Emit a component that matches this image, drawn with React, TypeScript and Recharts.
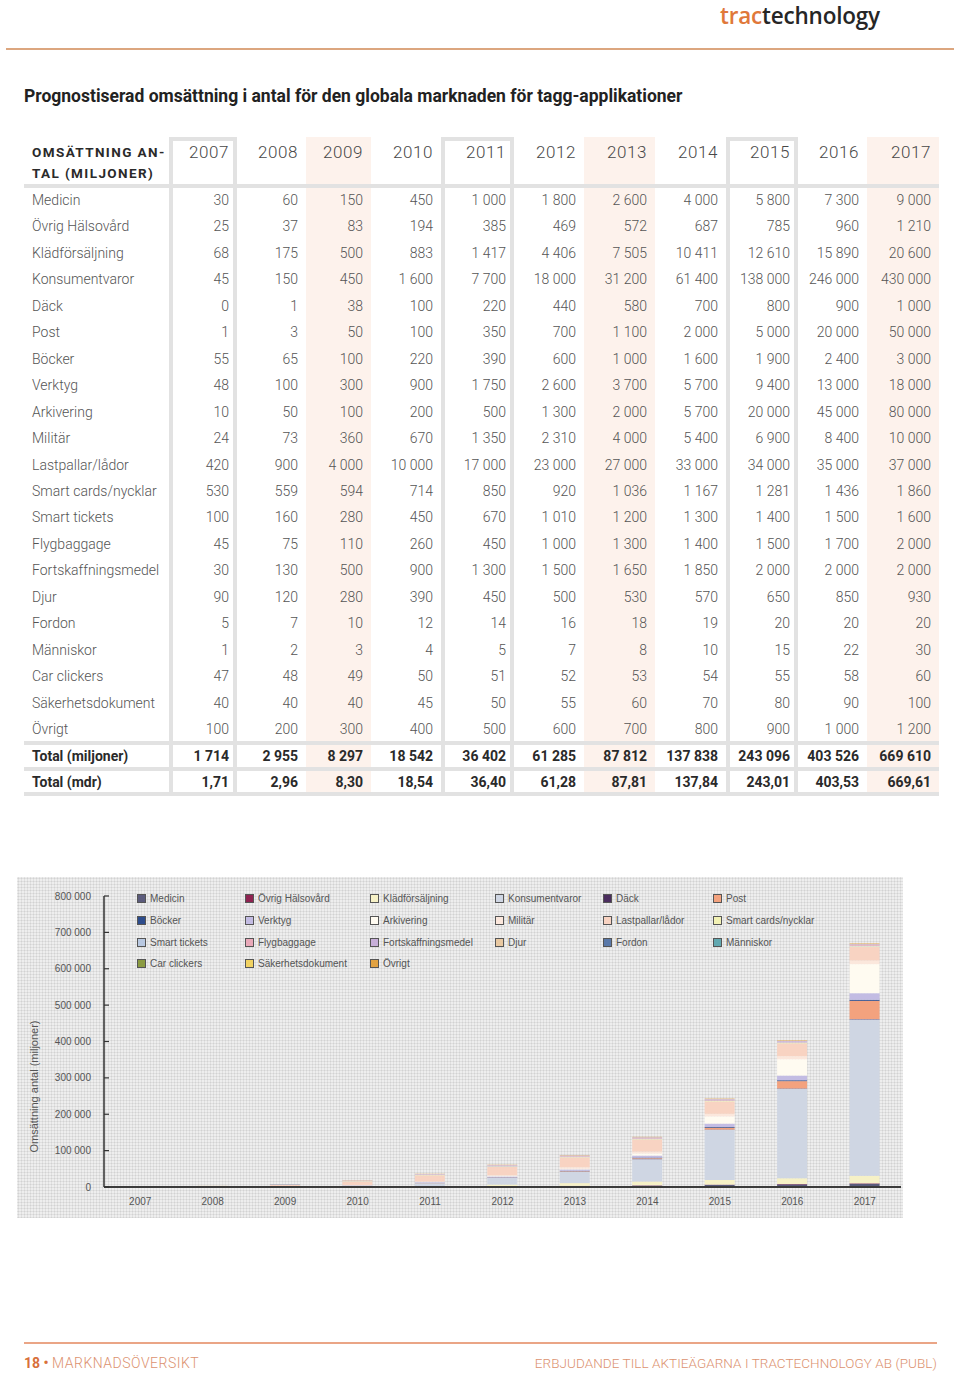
import { BarChart, Bar, XAxis, YAxis, Legend } from 'recharts';

const years = ['2007', '2008', '2009', '2010', '2011', '2012', '2013', '2014', '2015', '2016', '2017'];

// Omsättning per applikation, miljoner enheter
const medicin = [30, 60, 150, 450, 1000, 1800, 2600, 4000, 5800, 7300, 9000];
const ovrigHalsovard = [25, 37, 83, 194, 385, 469, 572, 687, 785, 960, 1210];
const kladforsaljning = [68, 175, 500, 883, 1417, 4406, 7505, 10411, 12610, 15890, 20600];
const konsumentvaror = [45, 150, 450, 1600, 7700, 18000, 31200, 61400, 138000, 246000, 430000];
const dack = [0, 1, 38, 100, 220, 440, 580, 700, 800, 900, 1000];
const post = [1, 3, 50, 100, 350, 700, 1100, 2000, 5000, 20000, 50000];
const bocker = [55, 65, 100, 220, 390, 600, 1000, 1600, 1900, 2400, 3000];
const verktyg = [48, 100, 300, 900, 1750, 2600, 3700, 5700, 9400, 13000, 18000];
const arkivering = [10, 50, 100, 200, 500, 1300, 2000, 5700, 20000, 45000, 80000];
const militar = [24, 73, 360, 670, 1350, 2310, 4000, 5400, 6900, 8400, 10000];
const lastpallar = [420, 900, 4000, 10000, 17000, 23000, 27000, 33000, 34000, 35000, 37000];
const smartCards = [530, 559, 594, 714, 850, 920, 1036, 1167, 1281, 1436, 1860];
const smartTickets = [100, 160, 280, 450, 670, 1010, 1200, 1300, 1400, 1500, 1600];
const flygbaggage = [45, 75, 110, 260, 450, 1000, 1300, 1400, 1500, 1700, 2000];
const fortskaffning = [30, 130, 500, 900, 1300, 1500, 1650, 1850, 2000, 2000, 2000];
const djur = [90, 120, 280, 390, 450, 500, 530, 570, 650, 850, 930];
const fordon = [5, 7, 10, 12, 14, 16, 18, 19, 20, 20, 20];
const manniskor = [1, 2, 3, 4, 5, 7, 8, 10, 15, 22, 30];
const carClickers = [47, 48, 49, 50, 51, 52, 53, 54, 55, 58, 60];
const sakerhetsdokument = [40, 40, 40, 45, 50, 55, 60, 70, 80, 90, 100];
const ovrigt = [100, 200, 300, 400, 500, 600, 700, 800, 900, 1000, 1200];

const totalMiljoner = [1714, 2955, 8297, 18542, 36402, 61285, 87812, 137838, 243096, 403526, 669610];
const totalMdr = ['1,71', '2,96', '8,30', '18,54', '36,40', '61,28', '87,81', '137,84', '243,01', '403,53', '669,61'];

const yTicks = [0, 100000, 200000, 300000, 400000, 500000, 600000, 700000, 800000];

const series = [
  { name: 'Medicin', values: medicin, color: '#5b5b7c' },
  { name: 'Övrig Hälsovård', values: ovrigHalsovard, color: '#8e2351' },
  { name: 'Klädförsäljning', values: kladforsaljning, color: '#f6f1c6' },
  { name: 'Konsumentvaror', values: konsumentvaror, color: '#cfd6e3' },
  { name: 'Däck', values: dack, color: '#4b2d5e' },
  { name: 'Post', values: post, color: '#f3a27e' },
  { name: 'Böcker', values: bocker, color: '#2d4c8c' },
  { name: 'Verktyg', values: verktyg, color: '#c3bce3' },
  { name: 'Arkivering', values: arkivering, color: '#fffbf1' },
  { name: 'Militär', values: militar, color: '#fbe7dc' },
  { name: 'Lastpallar/lådor', values: lastpallar, color: '#f8d3c2' },
  { name: 'Smart cards/nycklar', values: smartCards, color: '#f2f1b4' },
  { name: 'Smart tickets', values: smartTickets, color: '#b9c9e2' },
  { name: 'Flygbaggage', values: flygbaggage, color: '#e9a9b9' },
  { name: 'Fortskaffningsmedel', values: fortskaffning, color: '#c7afd9' },
  { name: 'Djur', values: djur, color: '#e9c9a2' },
  { name: 'Fordon', values: fordon, color: '#5a79a9' },
  { name: 'Människor', values: manniskor, color: '#62a9b1' },
  { name: 'Car clickers', values: carClickers, color: '#8b9b42' },
  { name: 'Säkerhetsdokument', values: sakerhetsdokument, color: '#f1d262' },
  { name: 'Övrigt', values: ovrigt, color: '#e1a242' },
];

const seriesOrder = series.map((s) => s.name);

const chartData = years.map((year, i) => {
  const row: Record<string, string | number> = { year };
  series.forEach((s, k) => {
    row['s' + k] = s.values[i];
  });
  return row;
});

// table geometry
const colEdges = [169, 237, 306, 371, 441, 514, 584, 655, 726, 798, 867, 939];
const rowTop = 200;
const rowStep = 26.45;
const grey = '#e2e2e2';
const pink = '#fdf2ec';
const bodyFont = 'Roboto, "Liberation Sans", sans-serif';

const fmt = (n: number) => String(n).replace(/\B(?=(\d{3})+(?!\d))/g, ' ');

function Cell({ col, y, children, style }: { col: number; y: number; children: any; style?: any }) {
  const left = colEdges[col];
  const w = colEdges[col + 1] - left - 8;
  return (
    <div style={{ position: 'absolute', left, top: y - 10, width: w, height: 20, lineHeight: '20px', textAlign: 'right', whiteSpace: 'nowrap', ...style }}>
      {children}
    </div>
  );
}

function Label({ y, children, style }: { y: number; children: any; style?: any }) {
  return (
    <div style={{ position: 'absolute', left: 32, top: y - 10, height: 20, lineHeight: '20px', whiteSpace: 'nowrap', ...style }}>
      {children}
    </div>
  );
}

function Table() {
  const valueStyle = { fontFamily: bodyFont, fontWeight: 300, fontSize: 14, color: '#555' };
  const totalStyle = { fontFamily: bodyFont, fontWeight: 700, fontSize: 14, color: '#2a2a2a' };
  const hLines = [[184, 188], [741, 745], [767, 771], [792, 796]];
  return (
    <>
      {years.map((_, i) =>
        i % 4 === 2 ? (
          <div key={'p' + i} style={{ position: 'absolute', left: colEdges[i], top: 137, width: colEdges[i + 1] - colEdges[i], height: 659, background: pink }} />
        ) : null
      )}
      {hLines.map(([a, b]) => (
        <div key={a} style={{ position: 'absolute', left: 24, top: a, width: 915, height: b - a, background: grey }} />
      ))}
      {years.map((_, i) =>
        i % 4 === 0 ? (
          <div key={'b' + i} style={{ position: 'absolute', left: colEdges[i], top: 137, width: colEdges[i + 1] - colEdges[i] - 8, height: 651, border: `4px solid ${grey}` }} />
        ) : null
      )}
      <div style={{ position: 'absolute', left: 32, top: 142, fontFamily: bodyFont, fontWeight: 700, fontSize: 13.5, letterSpacing: 1.4, lineHeight: '21px', color: '#2a2a2a' }}>
        OMSÄTTNING AN-
        <br />
        TAL (MILJONER)
      </div>
      {years.map((y, i) => (
        <Cell key={y} col={i} y={152} style={{ fontFamily: bodyFont, fontWeight: 300, fontSize: 17, letterSpacing: 0.6, color: '#484848' }}>
          {y}
        </Cell>
      ))}
      {series.map((s, r) => {
        const y = rowTop + r * rowStep;
        return (
          <div key={s.name}>
            <Label y={y} style={valueStyle}>{s.name}</Label>
            {s.values.map((v, i) => (
              <Cell key={i} col={i} y={y} style={valueStyle}>{fmt(v)}</Cell>
            ))}
          </div>
        );
      })}
      <Label y={755.5} style={totalStyle}>Total (miljoner)</Label>
      {totalMiljoner.map((v, i) => (
        <Cell key={'t' + i} col={i} y={755.5} style={totalStyle}>{fmt(v)}</Cell>
      ))}
      <Label y={782} style={totalStyle}>Total (mdr)</Label>
      {totalMdr.map((v, i) => (
        <Cell key={'m' + i} col={i} y={782} style={totalStyle}>{v}</Cell>
      ))}
    </>
  );
}

const legendCols = [108, 125, 125, 108, 110, 110];

function GridLegend(props: any) {
  const items = [...(props.payload || [])].sort(
    (a: any, b: any) => seriesOrder.indexOf(a.value) - seriesOrder.indexOf(b.value)
  );
  return (
    <div style={{ display: 'grid', gridTemplateColumns: legendCols.map((w) => w + 'px').join(' '), fontFamily: '"Liberation Sans", Arial, sans-serif', fontSize: 10, color: '#555' }}>
      {items.map((p: any) => (
        <div key={p.value} style={{ display: 'flex', alignItems: 'center', height: 21.7, whiteSpace: 'nowrap' }}>
          <span style={{ width: 7, height: 7, background: p.color, border: '1px solid #555', marginRight: 4, flex: 'none' }} />
          {p.value}
        </div>
      ))}
    </div>
  );
}

function YTick({ x, y, payload }: any) {
  return (
    <g>
      <line x1={x} x2={x + 5} y1={y} y2={y} stroke="#333" strokeWidth={1.2} />
      <text x={x - 13} y={y} dy={3.5} textAnchor="end" fontSize={10} fill="#555" fontFamily='"Liberation Sans", Arial, sans-serif'>
        {fmt(payload.value)}
      </text>
    </g>
  );
}

function AxisTitle({ viewBox }: any) {
  const cx = viewBox.x + 18;
  const cy = viewBox.y + viewBox.height / 2 + 45;
  return (
    <text x={cx} y={cy} transform={`rotate(-90 ${cx} ${cy})`} textAnchor="middle" dominantBaseline="middle" fontSize={11} fill="#555" fontFamily='"Liberation Sans", Arial, sans-serif'>
      Omsättning antal (miljoner)
    </text>
  );
}

function Chart() {
  return (
    <div
      style={{
        position: 'absolute',
        left: 17,
        top: 877,
        width: 886,
        height: 341,
        backgroundColor: '#eeeeee',
        backgroundImage: 'radial-gradient(circle, #d2d2d2 0.9px, transparent 1.1px)',
        backgroundSize: '3px 3px',
      }}
    >
      <BarChart width={886} height={341} data={chartData} margin={{ top: 19, right: 2, bottom: 0, left: 0 }} barSize={30}>
        <XAxis
          dataKey="year"
          height={31}
          tickLine={false}
          tickSize={0}
          tickMargin={11}
          axisLine={{ stroke: '#3a3a3a', strokeWidth: 2 }}
          tick={{ fontSize: 10, fill: '#555', fontFamily: '"Liberation Sans", Arial, sans-serif' }}
        />
        <YAxis
          width={87}
          domain={[0, 800000]}
          ticks={yTicks}
          interval={0}
          tickLine={false}
          tickSize={0}
          tickMargin={0}
          axisLine={{ stroke: '#333', strokeWidth: 1.5 }}
          tick={<YTick />}
          label={<AxisTitle />}
        />
        <Legend
          layout="horizontal"
          verticalAlign="middle"
          align="center"
          content={<GridLegend />}
          wrapperStyle={{ top: 11, left: 120, width: 700 }}
        />
        {series.map((s, k) => (
          <Bar key={s.name} dataKey={'s' + k} name={s.name} stackId="a" fill={s.color} isAnimationActive={false} />
        ))}
      </BarChart>
    </div>
  );
}

export default function App() {
  return (
    <div style={{ position: 'absolute', left: 0, top: 0, width: 960, height: 1375, background: '#fff', overflow: 'hidden' }}>
      <div style={{ position: 'absolute', left: 720, top: 0, fontFamily: '"Open Sans", sans-serif', fontWeight: 600, fontSize: 22.5, lineHeight: '31px', letterSpacing: -0.2, whiteSpace: 'nowrap' }}>
        <span style={{ color: '#e0783a' }}>trac</span>
        <span style={{ color: '#262626' }}>technology</span>
      </div>
      <div style={{ position: 'absolute', left: 6, top: 48, width: 948, height: 1.5, background: '#dca67f' }} />
      <div style={{ position: 'absolute', left: 24, top: 86, fontFamily: bodyFont, fontWeight: 700, fontSize: 17.5, lineHeight: '20px', color: '#222', whiteSpace: 'nowrap' }}>
        Prognostiserad omsättning i antal för den globala marknaden för tagg-applikationer
      </div>
      <Table />
      <Chart />
      <div style={{ position: 'absolute', left: 24, top: 1342, width: 913, height: 1.5, background: '#eaa586' }} />
      <div style={{ position: 'absolute', left: 24, top: 1354, fontFamily: bodyFont, fontSize: 14, lineHeight: '18px', color: '#dc9270', whiteSpace: 'nowrap' }}>
        <span style={{ fontWeight: 700, color: '#d8703a' }}>18</span>
        <span style={{ fontWeight: 700, color: '#d8703a' }}> • </span>
        <span style={{ fontWeight: 300, letterSpacing: 0.5 }}>MARKNADSÖVERSIKT</span>
      </div>
      <div style={{ position: 'absolute', right: 23, top: 1354, fontFamily: bodyFont, fontWeight: 300, fontSize: 13.5, lineHeight: '18px', color: '#dc9270', letterSpacing: 0.05, whiteSpace: 'nowrap' }}>
        ERBJUDANDE TILL AKTIEÄGARNA I TRACTECHNOLOGY AB (PUBL)
      </div>
    </div>
  );
}
